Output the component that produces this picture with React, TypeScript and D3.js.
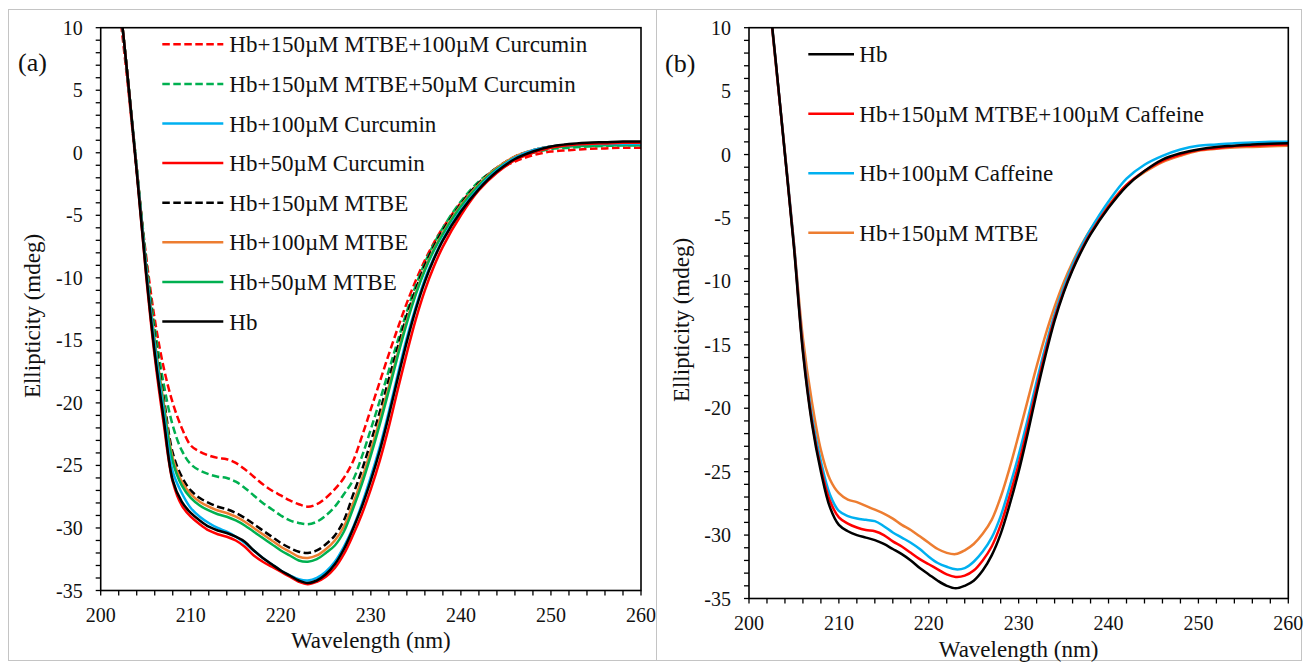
import React from 'react';
import * as d3 from 'd3';

// ---------------- DATA ----------------
const WAVELENGTHS = [202, 203, 204, 205, 206, 207, 208, 209, 210, 211, 212, 213, 214, 215, 216, 217, 218, 219, 220, 221, 222, 223, 224, 225, 226, 227, 228, 229, 230, 231, 232, 233, 234, 235, 236, 237, 238, 240, 242, 244, 246, 248, 250, 252, 254, 256, 258, 260];

const X_TICKS = [200, 210, 220, 230, 240, 250, 260];
const Y_TICKS = [10, 5, 0, -5, -10, -15, -20, -25, -30, -35];

// Panel (a)
const A_HB = [13, 6, -1.5, -9.3, -16, -21.3, -26.2, -27.9, -28.8, -29.4, -29.9, -30.2, -30.4, -30.7, -31.1, -31.8, -32.4, -32.9, -33.4, -33.8, -34.2, -34.4, -34.2, -33.7, -32.9, -31.7, -30.1, -28.3, -26.2, -23.8, -21.0, -18.0, -15.1, -12.5, -10.3, -8.5, -7.0, -4.7, -2.9, -1.5, -0.5, 0.1, 0.5, 0.7, 0.8, 0.85, 0.9, 0.9];
const A_MTBE50 = [13, 6, -1.2, -8.8, -15.2, -20.3, -24.7, -26.6, -27.6, -28.2, -28.6, -28.9, -29.1, -29.4, -29.8, -30.3, -30.8, -31.3, -31.8, -32.2, -32.6, -32.7, -32.5, -32.0, -31.4, -30.3, -28.5, -26.5, -24.2, -21.7, -19.0, -16.2, -13.6, -11.3, -9.4, -7.8, -6.5, -4.3, -2.6, -1.3, -0.4, 0.1, 0.4, 0.5, 0.55, 0.6, 0.6, 0.6];
const A_MTBE100 = [13, 6, -1.2, -8.8, -15, -20, -24.4, -26.3, -27.3, -27.9, -28.3, -28.6, -28.8, -29.1, -29.5, -30.0, -30.5, -31.0, -31.5, -31.9, -32.3, -32.4, -32.2, -31.7, -31.0, -29.9, -28.1, -26.1, -23.8, -21.3, -18.7, -16.0, -13.4, -11.2, -9.3, -7.7, -6.4, -4.2, -2.5, -1.2, -0.3, 0.2, 0.5, 0.6, 0.7, 0.7, 0.75, 0.75];
const A_MTBE150 = [13, 6, -1.2, -8.6, -14.7, -19.6, -24, -25.9, -27.0, -27.6, -28, -28.3, -28.5, -28.8, -29.2, -29.7, -30.2, -30.7, -31.2, -31.6, -31.9, -32.0, -31.8, -31.3, -30.6, -29.4, -27.4, -25.4, -23.1, -20.7, -18.1, -15.5, -13.0, -10.9, -9.0, -7.5, -6.2, -4.1, -2.4, -1.2, -0.3, 0.2, 0.5, 0.65, 0.7, 0.75, 0.8, 0.8];
const A_CUR50 = [13, 6, -1.5, -9.5, -16.3, -21.7, -26.3, -28.2, -29.1, -29.7, -30.2, -30.5, -30.7, -31.0, -31.5, -32.2, -32.7, -33.1, -33.5, -33.9, -34.3, -34.5, -34.3, -33.9, -33.2, -32.1, -30.6, -28.9, -26.9, -24.6, -21.9, -18.9, -16.0, -13.3, -11.0, -9.1, -7.5, -5.0, -3.0, -1.6, -0.6, 0, 0.4, 0.6, 0.7, 0.75, 0.8, 0.8];
const A_CUR100 = [13, 6, -1.3, -9, -15.5, -20.8, -25.5, -27.2, -28.4, -29.1, -29.6, -30.0, -30.3, -30.7, -31.2, -31.8, -32.4, -32.9, -33.4, -33.8, -34.1, -34.2, -34.0, -33.5, -32.7, -31.5, -30.0, -28.1, -25.9, -23.5, -20.7, -17.7, -14.8, -12.3, -10.1, -8.4, -6.9, -4.6, -2.8, -1.4, -0.4, 0.2, 0.5, 0.6, 0.7, 0.7, 0.7, 0.7];
const A_MTBE150_CUR50 = [13, 6, -1.3, -8.3, -14, -18.5, -21.8, -23.8, -24.9, -25.4, -25.7, -25.9, -26.0, -26.3, -26.8, -27.4, -28.0, -28.5, -29.0, -29.4, -29.6, -29.7, -29.5, -29.0, -28.3, -27.3, -26.2, -24.3, -22.1, -19.8, -17.4, -15.0, -12.7, -10.6, -8.8, -7.3, -6.0, -3.9, -2.3, -1.2, -0.4, 0, 0.3, 0.4, 0.5, 0.55, 0.6, 0.6];
const A_MTBE150_CUR100 = [12, 5.5, -1.5, -8, -13.3, -17.2, -20, -22, -23.4, -23.9, -24.2, -24.4, -24.5, -24.8, -25.3, -25.9, -26.5, -27.0, -27.4, -27.8, -28.1, -28.3, -28.1, -27.6, -26.9, -26.0, -24.7, -22.7, -20.5, -18.3, -16.1, -14.0, -12.0, -10.2, -8.6, -7.2, -6.0, -4.0, -2.5, -1.4, -0.7, -0.2, 0.1, 0.2, 0.3, 0.35, 0.4, 0.4];

// Panel (b)
const B_HB = [14, 7.2, 0, -7.3, -15.6, -21.2, -25, -27.8, -29.2, -29.7, -30.0, -30.2, -30.4, -30.7, -31.1, -31.5, -32.0, -32.6, -33.1, -33.6, -34.0, -34.2, -34.0, -33.6, -32.8, -31.6, -29.9, -27.6, -25.0, -22.0, -18.8, -15.8, -13.1, -10.9, -9.1, -7.6, -6.3, -4.2, -2.5, -1.3, -0.4, 0.1, 0.4, 0.6, 0.7, 0.8, 0.85, 0.9];
const B_MTBE150_CAF100 = [14, 7.1, 0, -7.2, -15.4, -21, -24.7, -27.3, -28.6, -29.1, -29.4, -29.6, -29.7, -30.0, -30.5, -30.9, -31.4, -31.9, -32.3, -32.7, -33.1, -33.3, -33.2, -32.8, -32.0, -30.9, -29.2, -26.9, -24.4, -21.5, -18.4, -15.5, -12.9, -10.8, -9.0, -7.5, -6.2, -4.1, -2.4, -1.3, -0.5, 0, 0.35, 0.5, 0.65, 0.7, 0.75, 0.8];
const B_CAF100 = [14, 7.1, 0.1, -7, -15.2, -20.6, -24.2, -26.8, -28.1, -28.5, -28.7, -28.8, -28.9, -29.3, -29.8, -30.2, -30.6, -31.1, -31.7, -32.2, -32.5, -32.7, -32.6, -32.1, -31.3, -30.2, -28.5, -26.2, -23.7, -20.9, -17.9, -15.1, -12.6, -10.5, -8.7, -7.2, -5.9, -3.7, -1.9, -0.8, -0.1, 0.4, 0.7, 0.8, 0.9, 0.95, 1.0, 1.0];
const B_MTBE150 = [14, 7, 0.2, -7, -14.5, -19.5, -23.3, -25.6, -26.7, -27.2, -27.4, -27.7, -28.0, -28.3, -28.7, -29.2, -29.6, -30.1, -30.6, -31.1, -31.4, -31.5, -31.2, -30.7, -29.9, -28.8, -27.0, -24.7, -22.1, -19.4, -16.7, -14.2, -12.0, -10.1, -8.5, -7.1, -5.9, -4.0, -2.4, -1.4, -0.6, -0.1, 0.3, 0.45, 0.55, 0.6, 0.65, 0.7];

const A_NAMES = [
  'Hb+150µM MTBE+100µM Curcumin',
  'Hb+150µM MTBE+50µM Curcumin',
  'Hb+100µM Curcumin',
  'Hb+50µM Curcumin',
  'Hb+150µM MTBE',
  'Hb+100µM MTBE',
  'Hb+50µM MTBE',
  'Hb',
];
const B_NAMES = ['Hb', 'Hb+150µM MTBE+100µM Caffeine', 'Hb+100µM Caffeine', 'Hb+150µM MTBE'];

// ---------------- STYLE / LAYOUT ----------------
const FONT = '"Liberation Serif", Tinos, "Times New Roman", "Nimbus Roman", "DejaVu Serif", serif';
const RED = '#ff0000';
const GREEN = '#00b050';
const BLUE = '#00b0f0';
const ORANGE = '#ed7d31';
const BLACK = '#000000';
const DASH = '7.5,3.5';

type Series = { name: string; values: number[]; color: string; dash?: string };

const SERIES_A: Series[] = [
  { name: A_NAMES[0], values: A_MTBE150_CUR100, color: RED, dash: DASH },
  { name: A_NAMES[1], values: A_MTBE150_CUR50, color: GREEN, dash: DASH },
  { name: A_NAMES[2], values: A_CUR100, color: BLUE },
  { name: A_NAMES[3], values: A_CUR50, color: RED },
  { name: A_NAMES[4], values: A_MTBE150, color: BLACK, dash: DASH },
  { name: A_NAMES[5], values: A_MTBE100, color: ORANGE },
  { name: A_NAMES[6], values: A_MTBE50, color: GREEN },
  { name: A_NAMES[7], values: A_HB, color: BLACK },
];

const SERIES_B: Series[] = [
  { name: B_NAMES[0], values: B_HB, color: BLACK },
  { name: B_NAMES[1], values: B_MTBE150_CAF100, color: RED },
  { name: B_NAMES[2], values: B_CAF100, color: BLUE },
  { name: B_NAMES[3], values: B_MTBE150, color: ORANGE },
];

type PanelCfg = {
  id: string;
  left: number; right: number; top: number; bottom: number;
  label: string; labelX: number; labelY: number;
  legendLineX0: number; legendLineX1: number; legendTextX: number; legendY0: number; legendStep: number;
  yTitleX: number; yTitleY: number; xTitleY: number;
};

const PANEL_A: PanelCfg = {
  id: 'a', left: 100.7, right: 641, top: 27.7, bottom: 590.5,
  label: '(a)', labelX: 18, labelY: 71,
  legendLineX0: 162.3, legendLineX1: 223.3, legendTextX: 229.3, legendY0: 44.3, legendStep: 39.6,
  yTitleX: 40, yTitleY: 316, xTitleY: 648,
};
const PANEL_B: PanelCfg = {
  id: 'b', left: 749, right: 1288.3, top: 27.7, bottom: 598.5,
  label: '(b)', labelX: 665, labelY: 72,
  legendLineX0: 808.3, legendLineX1: 854, legendTextX: 859.3, legendY0: 54.3, legendStep: 59.5,
  yTitleX: 689, yTitleY: 320, xTitleY: 657,
};

function Panel({ cfg, series, drawOrder }: { cfg: PanelCfg; series: Series[]; drawOrder: number[] }) {
  const x = d3.scaleLinear().domain([200, 260]).range([cfg.left, cfg.right]);
  const y = d3.scaleLinear().domain([-35, 10]).range([cfg.bottom, cfg.top]);
  const line = d3
    .line<number>()
    .x((_, i) => x(WAVELENGTHS[i]))
    .y((d) => y(d))
    .curve(d3.curveCatmullRom.alpha(0.5));
  const minorY = d3.range(-35, 10.5, 1);
  const minorX = d3.range(200, 260.5, 2);
  const clipId = `clip-${cfg.id}`;
  const xMid = (cfg.left + cfg.right) / 2;
  const txt = { fontFamily: FONT };

  return (
    <g>
      <defs>
        <clipPath id={clipId}>
          <rect x={cfg.left} y={cfg.top} width={cfg.right - cfg.left} height={cfg.bottom - cfg.top} />
        </clipPath>
      </defs>
      <g clipPath={`url(#${clipId})`}>
        {drawOrder.map((k) => {
          const s = series[k];
          return (
            <path
              key={k}
              d={line(s.values) || ''}
              fill="none"
              stroke={s.color}
              strokeWidth={2.5}
              strokeDasharray={s.dash}
              strokeLinejoin="round"
            />
          );
        })}
      </g>
      <rect x={cfg.left} y={cfg.top} width={cfg.right - cfg.left} height={cfg.bottom - cfg.top} fill="none" stroke="#000" strokeWidth={1.6} />
      {minorY.map((v) => (
        <line key={`yt${v}`} x1={cfg.left - 5} x2={cfg.left} y1={y(v)} y2={y(v)} stroke="#000" strokeWidth={1.3} />
      ))}
      {minorX.map((v) => (
        <line key={`xt${v}`} x1={x(v)} x2={x(v)} y1={cfg.bottom} y2={cfg.bottom + 5} stroke="#000" strokeWidth={1.3} />
      ))}
      {Y_TICKS.map((v) => (
        <text key={`yl${v}`} x={cfg.left - 18} y={y(v) + 7} textAnchor="end" fontSize={20} style={txt} fill="#111">
          {String(v)}
        </text>
      ))}
      {X_TICKS.map((v) => (
        <text key={`xl${v}`} x={x(v)} y={cfg.bottom + 31} textAnchor="middle" fontSize={20} style={txt} fill="#111">
          {String(v)}
        </text>
      ))}
      <text x={xMid} y={cfg.xTitleY} textAnchor="middle" fontSize={23} style={txt} fill="#111">
        Wavelength (nm)
      </text>
      <text
        transform={`translate(${cfg.yTitleX},${cfg.yTitleY}) rotate(-90)`}
        textAnchor="middle"
        fontSize={23}
        style={txt}
        fill="#111"
      >
        Ellipticity (mdeg)
      </text>
      <text x={cfg.labelX} y={cfg.labelY} fontSize={26} style={txt} fill="#111">
        {cfg.label}
      </text>
      {series.map((s, i) => {
        const ly = cfg.legendY0 + i * cfg.legendStep;
        return (
          <g key={`lg${i}`}>
            <line x1={cfg.legendLineX0} x2={cfg.legendLineX1} y1={ly} y2={ly} stroke={s.color} strokeWidth={2.5} strokeDasharray={s.dash} />
            <text x={cfg.legendTextX} y={ly + 8} fontSize={23} style={txt} fill="#111">
              {s.name}
            </text>
          </g>
        );
      })}
    </g>
  );
}

export default function App() {
  return (
    <svg
      width={1305}
      height={663}
      viewBox="0 0 1305 663"
      style={{ position: 'absolute', left: 0, top: 0, background: '#fff', fontFamily: FONT }}
    >
      <rect x={0} y={0} width={1305} height={663} fill="#fff" />
      <rect x={8.5} y={9.5} width={1293} height={651} fill="none" stroke="#c4c4c4" strokeWidth={1} />
      <line x1={656.5} x2={656.5} y1={9.5} y2={660.5} stroke="#c4c4c4" strokeWidth={1} />
      <Panel cfg={PANEL_A} series={SERIES_A} drawOrder={[0, 1, 4, 5, 6, 2, 3, 7]} />
      <Panel cfg={PANEL_B} series={SERIES_B} drawOrder={[3, 2, 1, 0]} />
    </svg>
  );
}
